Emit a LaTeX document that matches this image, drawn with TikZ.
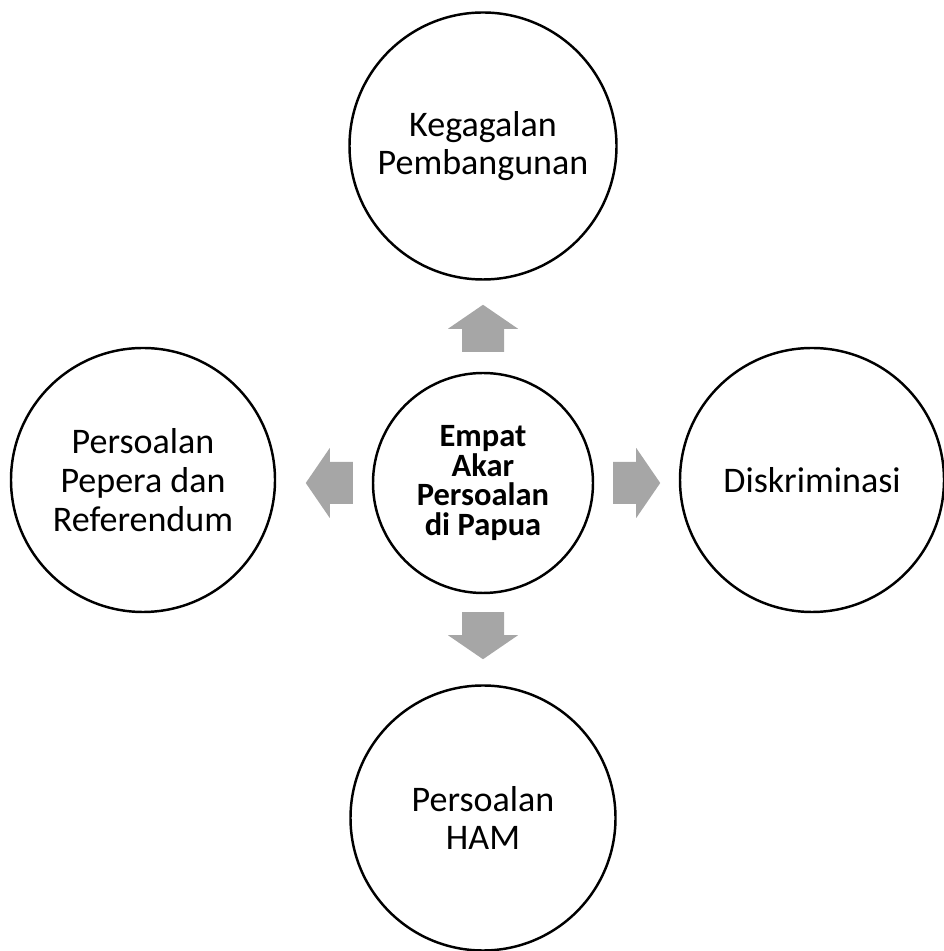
\documentclass[tikz,border=0pt]{standalone}
\usepackage{fontspec}
\setmainfont{Carlito}
\usetikzlibrary{calc}

\definecolor{arrowgray}{HTML}{A6A6A6}

\tikzset{
  bubble/.style={circle, draw=black, line width=1.4pt, minimum size=5.28cm,
                 inner sep=0pt, align=center, font=\fontsize{20.5}{22}\selectfont},
  hubcircle/.style={bubble, minimum size=4.4cm, font=\fontsize{18.5}{17}\selectfont\bfseries},
  blockarrow/.pic={
    \fill[arrowgray] (0,-0.42) -- (0.46,-0.42) -- (0.46,-0.70) -- (0.94,0)
                     -- (0.46,0.70) -- (0.46,0.42) -- (0,0.42) -- cycle;
  }
}

\begin{document}
\begin{tikzpicture}
    \useasboundingbox (0,0) rectangle (18.88,19.02);

    % hub and the four roots
    \node[hubcircle] (hub) at (9.66,9.36) {Empat\\Akar\\Persoalan\\di Papua};
    \node[bubble, minimum size=5.34cm] (pembangunan) at (9.66,16.10) {Kegagalan\\Pembangunan};
    \node[bubble, minimum size=5.3cm]  (ham) at (9.66,2.66) {Persoalan\\HAM};
    \node[bubble] (pepera) at (2.86,9.42) {Persoalan\\Pepera dan\\Referendum};
    \node[bubble] (diskriminasi) at (16.24,9.42) {Diskriminasi};

    % block arrows out of the hub
    \coordinate (upbase)    at ([yshift=0.40cm]hub.north);
    \coordinate (downbase)  at ([yshift=-0.36cm]hub.south);
    \coordinate (leftbase)  at ([xshift=-0.38cm]hub.west);
    \coordinate (rightbase) at ([xshift=0.38cm]hub.east);
    \pic[rotate=90]  at (upbase)    {blockarrow};
    \pic[rotate=-90] at (downbase)  {blockarrow};
    \pic[rotate=180] at (leftbase)  {blockarrow};
    \pic             at (rightbase) {blockarrow};
\end{tikzpicture}
\end{document}
